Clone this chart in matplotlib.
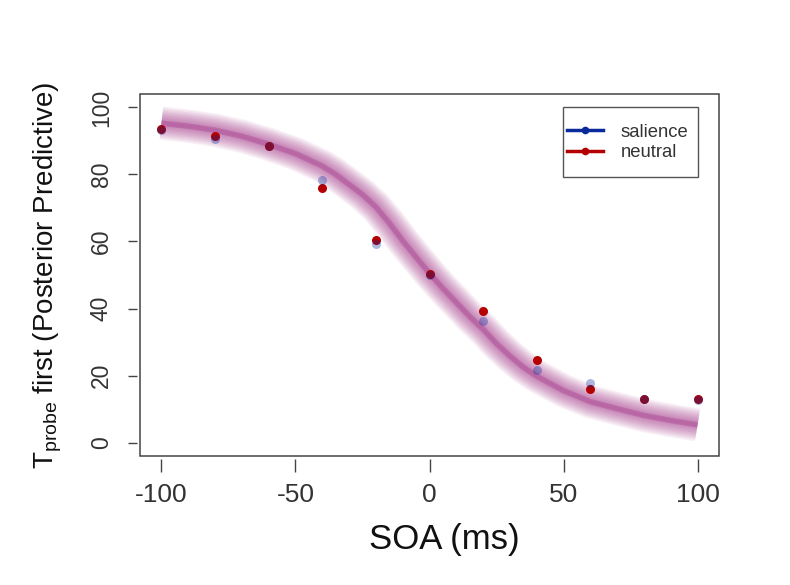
import matplotlib
matplotlib.use('Agg')
import matplotlib.pyplot as plt
from matplotlib.lines import Line2D
from matplotlib.patches import Rectangle

SOA = [-100, -80, -60, -40, -20, 0, 20, 40, 60, 80, 100]
SALIENCE = [93.3, 90.5, 88.4, 78.4, 59.2, 50.1, 36.4, 21.7, 17.8, 13.0, 12.6]
NEUTRAL = [93.5, 91.5, 88.6, 75.9, 60.4, 50.3, 39.4, 24.5, 15.9, 13.1, 12.9]

CURVE_X = [-100, -90, -80, -70, -60, -50, -40, -35, -30, -25, -20, -15, -10, -5, 0,
           5, 10, 15, 20, 25, 30, 35, 40, 50, 60, 70, 80, 90, 100]
CURVE_Y = [95.3, 94.4, 93.2, 91.4, 89.0, 86.2, 82.5, 80.0, 77.0, 74.0, 70.3, 65.5, 60.2, 55.3, 50.5,
           46.0, 41.8, 37.6, 33.8, 29.5, 25.8, 22.5, 19.8, 15.5, 12.2, 10.1, 8.1, 6.6, 5.3]

BAND_COLOR = '#a02c84'
BLUE = '#0a2a9c'
RED = '#b40000'
TEXT = '#333333'
BOX = '#444444'

plt.rcParams['font.family'] = ['Liberation Sans', 'DejaVu Sans']
plt.rcParams['mathtext.fontset'] = 'custom'
plt.rcParams['mathtext.rm'] = 'Liberation Sans'
plt.rcParams['axes.unicode_minus'] = False

fig = plt.figure(figsize=(7.9, 5.85), dpi=100)
ax = fig.add_axes([140 / 790, 1 - 456 / 585, 579 / 790, 362 / 585])


def px_to_axes(px, py):
    return (px - 140) / 579, (456 - py) / 362


# posterior predictive band: stacked translucent strokes, darker core
for lw in range(24, 1, -2):
    ax.plot(CURVE_X, CURVE_Y, color=BAND_COLOR, lw=lw, alpha=0.07,
            solid_capstyle='butt', solid_joinstyle='round', zorder=1)
ax.plot(CURVE_X, CURVE_Y, color=BAND_COLOR, lw=4, alpha=0.3,
        solid_capstyle='butt', solid_joinstyle='round', zorder=1)

ax.plot(SOA, NEUTRAL, 'o', color=RED, ms=6.5, mew=0, zorder=3)
ax.plot(SOA, SALIENCE, 'o', color=BLUE, ms=6.5, mew=0, alpha=0.33, zorder=4)

ax.set_xlim(-108, 108)
ax.set_ylim(-4, 104)
ax.set_xticks([-100, -50, 0, 50, 100])
ax.set_yticks([0, 20, 40, 60, 80, 100])

for s in ax.spines.values():
    s.set_visible(False)
ax.spines['left'].set_position(('outward', 2.5))
ax.spines['bottom'].set_position(('outward', 2))
ax.add_patch(Rectangle((0, 0), 1, 1, transform=ax.transAxes, fill=False,
                       ec=BOX, lw=1.1, clip_on=False, zorder=5))

ax.tick_params(axis='x', length=9, width=1, color=BOX, pad=8.5,
               labelsize=19, labelcolor=TEXT)
ax.tick_params(axis='y', length=6.5, width=1, color=BOX, pad=10.5,
               labelsize=16.5, labelcolor=TEXT, labelrotation=90)
for lab in ax.get_yticklabels():
    lab.set_va('center')

ax.set_xlabel('SOA (ms)', fontsize=25, color='#111111', va='center')
ax.xaxis.set_label_coords(*px_to_axes(444, 540))
ax.set_ylabel(r'T$_{\mathrm{probe}}$ first (Posterior Predictive)',
              fontsize=20, color='#111111', va='center')
ax.yaxis.set_label_coords(px_to_axes(48, 0)[0], 0.5)

# legend frame drawn separately, entries placed inside it
x0, y0 = px_to_axes(563, 177)
x1, y1 = px_to_axes(698, 107)
ax.add_patch(Rectangle((x0, y0), x1 - x0, y1 - y0, transform=ax.transAxes,
                       fill=True, fc='white', ec='#555555', lw=1, zorder=6))
handles = [Line2D([], [], color=BLUE, lw=2.5, marker='o', ms=5.5, mew=0),
           Line2D([], [], color=RED, lw=2.5, marker='o', ms=5.5, mew=0)]
leg = ax.legend(handles, ['salience', 'neutral'], loc='center left',
                bbox_to_anchor=px_to_axes(567, 142.5),
                borderaxespad=0, borderpad=0, fontsize=13.3, frameon=False,
                handlelength=1.95, handletextpad=0.95, labelspacing=0.2)
leg.set_zorder(7)
for t in leg.get_texts():
    t.set_color(TEXT)

fig.savefig('out.png', dpi=100, facecolor='white')
